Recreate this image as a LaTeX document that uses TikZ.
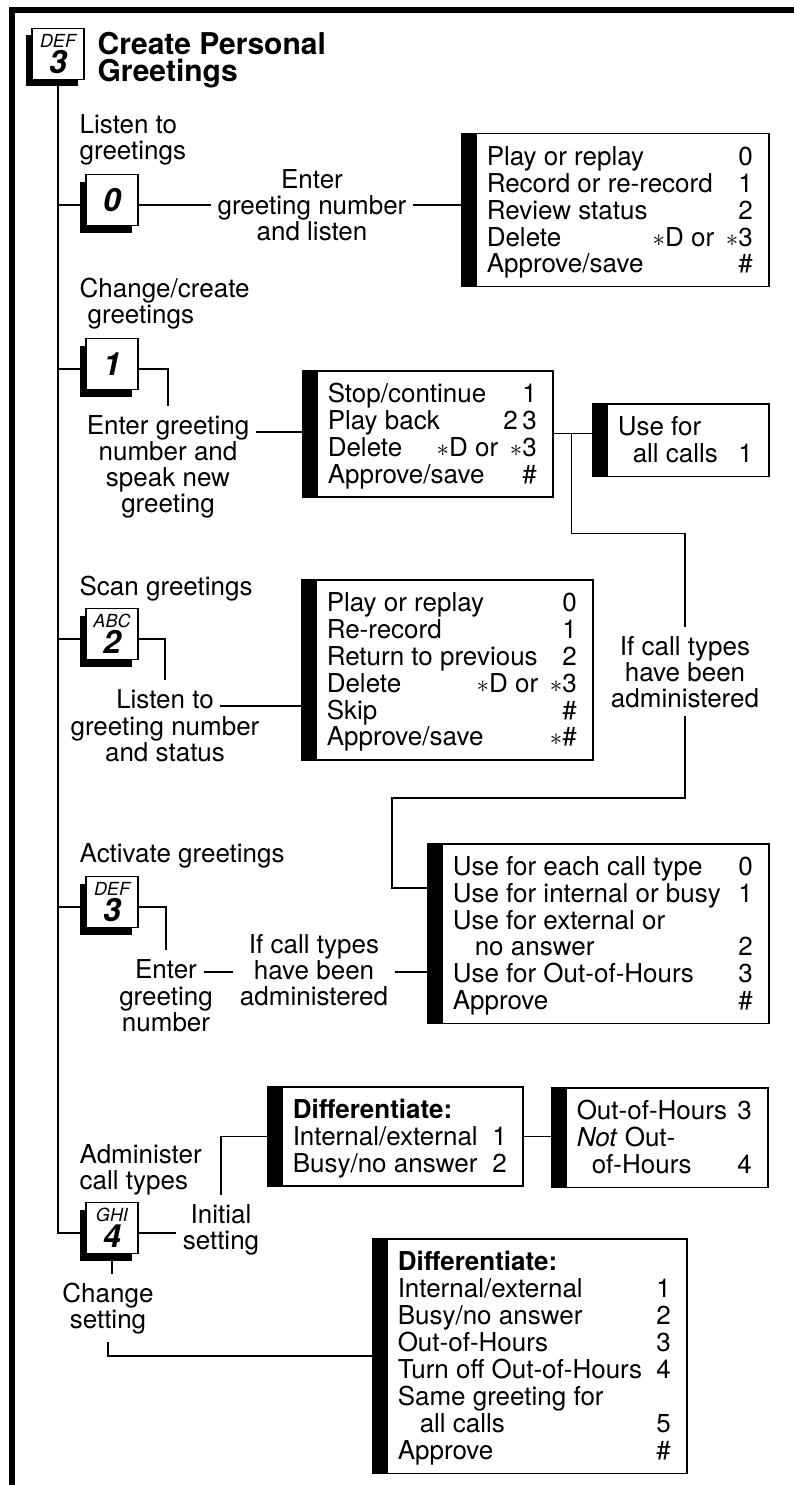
\documentclass[tikz,border=0pt]{standalone}
\usepackage{fontspec}
\setmainfont{TeX Gyre Heros}
\usetikzlibrary{shadows}

% rows of a menu box: text on the left, key presses flush right
\newcommand{\menurows}[2]{\begin{tabular*}{#1}{@{\hspace{25pt}}l@{\extracolsep{\fill}}r@{\hspace{16pt}}}\rule{0pt}{26pt}#2\end{tabular*}}
% a row whose right part is too long for the number column
\newcommand{\fullrow}[1]{\multicolumn{2}{@{\hspace{25pt}}l@{\hspace{16pt}}}{#1}}
\newcommand{\keydigit}[1]{{\fontsize{32}{26}\selectfont\bfseries\itshape #1}}
\newcommand{\stk}{$\ast$}

\begin{document}
\begin{tikzpicture}[x=1pt, y=-1pt, line width=1.3pt,
    every node/.style={font=\fontsize{26}{26}\selectfont},
    keycap/.style={draw, fill=white, line width=1.2pt, minimum width=52pt, minimum height=51pt,
      inner sep=0pt, align=center, font=\fontsize{18}{26}\selectfont\itshape,
      drop shadow={shadow xshift=-6pt, shadow yshift=-7pt, fill=black, opacity=1}},
    menubox/.style={draw, line width=1.5pt, anchor=north west, inner xsep=0pt, inner ysep=6pt,
      path picture={\fill[black] (path picture bounding box.north west) rectangle ([xshift=15pt]path picture bounding box.south west);}},
    heading/.style={anchor=base west, align=left, inner sep=0pt},
    note/.style={anchor=base, align=center, inner xsep=6pt, inner ysep=8pt}]

	\fill[white] (0,0) rectangle (793,1485);
	\useasboundingbox (0,0) rectangle (793,1485);
	\draw[line width=6pt] (12,1495) -- (12,10) -- (800,10);

	% title (multi-line nodes sit on their last baseline)
	\node[keycap] (tk) at (58,54) {DEF\\\keydigit{3}};
	\node[heading, font=\fontsize{30}{27}\selectfont\bfseries] (title) at (97,82) {Create Personal\\Greetings};

	% 0: listen
	\node[heading] (h0) at (79,159) {Listen to\\greetings};
	\node[keycap] (k0) at (112,200) {\keydigit{0}};
	\node[note] (l0) at (312,240) {Enter\\greeting number\\and listen};
	\node[menubox] (b1) at (461,133) {\menurows{307pt}{Play or replay & 0\\
		Record or re-record & 1\\
		Review status & 2\\
		\fullrow{Delete\hfill\stk D or\, \stk3}\\
		Approve/save & \#}};

	% 1: change/create
	\node[heading] (h1) at (79,323) {Change/create\\\hspace*{8pt}greetings};
	\node[keycap] (k1) at (112,364) {\keydigit{1}};
	\node[note] (l1a) at (168,434) {Enter greeting};
	\node[note] (l1b) at (168,512) {number and\\speak new\\greeting};
	\node[menubox] (b2) at (302,370) {\menurows{250pt}{Stop/continue & 1\\
		Play back & 2\,3\\
		\fullrow{Delete\hfill\stk D or\, \stk3}\\
		Approve/save & \#}};
	\node[menubox] (b3) at (592,403) {\menurows{176pt}{Use for & \\
		\hspace*{15pt}all calls & 1}};
	\node[note] (l2c) at (685,707) {If call types\\have been\\administered};

	% 2: scan
	\node[heading] (h2) at (79,595) {Scan greetings};
	\node[keycap] (k2) at (112,634) {ABC\\\keydigit{2}};
	\node[note] (l2a) at (165,708) {Listen to};
	\node[note] (l2b) at (165,761) {greeting number\\and status};
	\node[menubox] (b5) at (301,579) {\menurows{291pt}{Play or replay & 0\\
		Re-record & 1\\
		Return to previous & 2\\
		\fullrow{Delete\hfill\stk D or\, \stk3}\\
		Skip & \#\\
		Approve/save & \stk\#}};

	% 3: activate
	\node[heading] (h3) at (79,862) {Activate greetings};
	\node[keycap] (k3) at (112,902) {DEF\\\keydigit{3}};
	\node[note] (l3a) at (166,978) {Enter};
	\node[note] (l3b) at (166,1031) {greeting\\number};
	\node[note] (l3c) at (314,1005) {If call types\\have been\\administered};
	\node[menubox] (b4) at (427,843) {\menurows{341pt}{Use for each call type & 0\\
		Use for internal or busy & 1\\
		Use for external or & \\
		\hspace*{22pt}no answer & 2\\
		Use for Out-of-Hours & 3\\
		Approve & \#}};

	% 4: administer
	\node[heading] (h4) at (79,1189) {Administer\\call types};
	\node[keycap] (k4) at (112,1228) {GHI\\\keydigit{4}};
	\node[note] (l4) at (221,1249) {Initial\\setting};
	\node[note] (l5) at (108,1328) {Change\\setting};
	\node[menubox] (b6) at (267,1086) {\menurows{255pt}{\textbf{Differentiate:} & \\
		Internal/external & 1\\
		Busy/no answer & 2}};
	\node[menubox] (b7) at (551,1087) {\menurows{216pt}{Out-of-Hours & 3\\
		\textit{Not} Out- & \\
		\hspace*{15pt}of-Hours & 4}};
	\node[menubox] (b8) at (372,1238) {\menurows{314pt}{\textbf{Differentiate:} & \\
		Internal/external & 1\\
		Busy/no answer & 2\\
		Out-of-Hours & 3\\
		Turn off Out-of-Hours & 4\\
		Same greeting for & \\
		\hspace*{22pt}all calls & 5\\
		Approve & \#}};

	% lines leave the keys a little below their middle
	\foreach \k in {k0,k1,k2,k3,k4} {
		\coordinate (\k-w) at ([yshift=-5pt]\k.west);
		\coordinate (\k-e) at ([yshift=-5pt]\k.east);
	}

	% trunk
	\draw (tk.south) |- (k4-w);
	\foreach \k in {k0,k1,k2,k3} \draw (tk.south |- \k-w) -- (\k-w);

	\draw (k0-e) -- (k0-e -| l0.west);
	\draw (k0-e -| l0.east) -- (k0-e -| b1.west);

	\draw (k1-e) -| (l1a.north);
	\draw ([yshift=2pt]l1a.base east) -- ([yshift=2pt]l1a.base east -| b2.west);
	\draw (b2.east) -- (b2.east -| b3.west);
	\draw ([xshift=18pt]b2.east) -- ++(0,100) -| (l2c.north);
	\draw (l2c.south) -- ++(0,82) -| ([xshift=-35pt,yshift=-45pt]b4.north west) -- ([yshift=-45pt]b4.north west);

	\draw (k2-e) -| (l2a.north);
	\draw ([yshift=2pt]l2a.base east) -- ([yshift=2pt]l2a.base east -| b5.west);

	\draw (k3-e) -| (l3a.north);
	\draw ([yshift=6pt]l3a.base east) -- ([yshift=6pt]l3a.base east -| l3c.west);
	\draw ([yshift=6pt]l3a.base east -| l3c.east) -- ([yshift=6pt]l3a.base east -| b4.west);

	\draw (k4-e) -- (k4-e -| l4.west);
	\draw (l4.north) |- (b6.west);
	\draw (b6.east) -- (b6.east -| b7.west);
	\draw (k4.south) -- (k4.south |- l5.north);
	\draw (l5.south) |- (b8.west);

\end{tikzpicture}
\end{document}
